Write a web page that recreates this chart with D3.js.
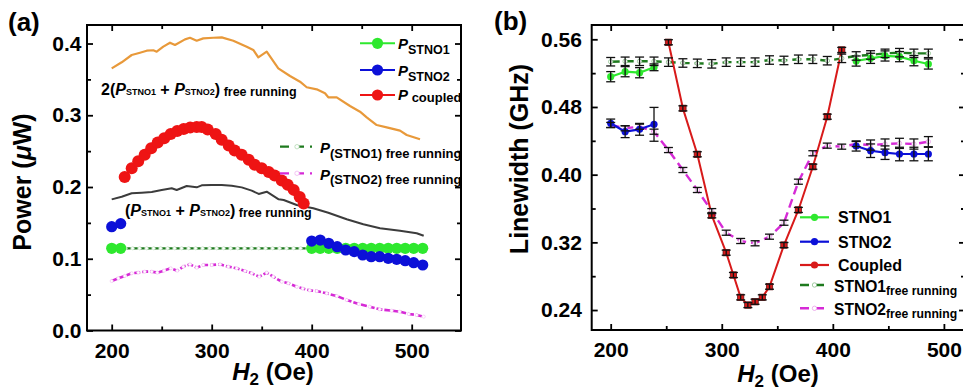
<!DOCTYPE html>
<html><head><meta charset="utf-8">
<script src="https://cdn.jsdelivr.net/npm/d3@7"></script>
<style>
body{margin:0;background:#fff}
svg{display:block;font-family:"Liberation Sans",Arial,sans-serif;font-weight:bold}
text{white-space:pre}
</style>
</head><body>
<svg id="c" width="963" height="391"></svg>
<script>
// ---------- Panel (a): output power vs H2 ----------
const hSum2 = [200,210,220,228.3,235,241.6,245,251.6,258.3,263.3,273.3,278.3,285,291.6,301.6,310,321.6,335,341.6,346.6,355,366.6,378.3,388.3,395,405,413.3,416.6,425,438.3,448.3,455,465,475,488.3,495,508.3];
const pSum2 = [0.3654,0.3738,0.384,0.3872,0.390,0.3906,0.3886,0.3956,0.4011,0.3979,0.4058,0.408,0.4039,0.4072,0.408,0.4086,0.4039,0.3956,0.391,0.3807,0.3886,0.3654,0.3547,0.3468,0.339,0.3361,0.3306,0.325,0.325,0.3129,0.305,0.2971,0.2864,0.2832,0.2785,0.2725,0.2665];

const hSum = [200,210,220,230,240,250,260,265,275,285,290,300,310,320,330,340,347,355,367,372,385,401.6,416.6,435,451.6,468.3,488.3,505,512];
const pSum = [0.1828,0.1865,0.1912,0.1921,0.193,0.1958,0.1982,0.1958,0.2014,0.1995,0.2023,0.2028,0.2028,0.2019,0.1995,0.1949,0.1903,0.1935,0.1828,0.1819,0.1749,0.1703,0.1642,0.155,0.148,0.1424,0.139,0.1355,0.132];

const hFree1 = [200,207,214,221,228,235,242,249,256,263,270,277,284,291,298,305,312,319,326,333,340,347,354,361,368,375,382,389,396,403,410,417,424,431,438,445,452,459,466,473,480,487,494,501,508];
const pFree1 = [0.1146,0.1146,0.1146,0.1146,0.1146,0.1146,0.1146,0.1146,0.1146,0.1146,0.1146,0.1146,0.1146,0.1146,0.1146,0.1146,0.1146,0.1146,0.1146,0.1146,0.1146,0.1146,0.1146,0.1146,0.1146,0.1146,0.1146,0.1146,0.1146,0.1146,0.1146,0.1146,0.1146,0.1146,0.1146,0.1146,0.1146,0.1146,0.1146,0.1146,0.1146,0.1146,0.1146,0.1146,0.1146];

const hFree2 = [200,206.6,213,220,226.6,233,240,245.6,252.3,259,265.6,271.6,278.3,285,291.6,300,308.3,316.6,325,333.3,340,347.6,355,361.6,370,376.6,385,391,398,405,415,425,435,447,458,468,480,488,497,505,512];
const pFree2 = [0.0690,0.0727,0.0760,0.0797,0.0807,0.0820,0.0820,0.0807,0.0834,0.0867,0.0834,0.0890,0.0922,0.0876,0.0913,0.0913,0.0922,0.0890,0.0867,0.0830,0.0797,0.0750,0.0807,0.0750,0.0680,0.0658,0.0610,0.0585,0.0560,0.0550,0.0518,0.0481,0.0425,0.0370,0.0332,0.0295,0.0276,0.0262,0.0230,0.0216,0.0193];

const hS1a = [[200,209],[400,408.5,417,425.5,434,442.5,451,459.5,468,476.5,485,493.5,502,511]];
const pS1a = [[0.1146,0.1146],[0.1146,0.1146,0.1146,0.1146,0.1146,0.1146,0.1146,0.1146,0.1146,0.1146,0.1146,0.1146,0.1146,0.1146]];
const hS2a = [[200,209],[400,408.5,417,425.5,434,442.5,451,459.5,468,476.5,485,493.5,502,511]];
const pS2a = [[0.1447,0.149],[0.1247,0.1261,0.1215,0.1168,0.1122,0.1099,0.1052,0.1029,0.1029,0.1006,0.0992,0.0973,0.0945,0.0913]];

const hCoup = [213,220,226.5,233,239.5,246,252.5,259,265.5,272,278.5,285,290,296,304,310,317,323,330,337,343,350,357,363,370,376,382,388,392];
const pCoup = [0.214,0.226,0.236,0.245,0.254,0.262,0.268,0.274,0.278,0.281,0.283,0.2835,0.2835,0.280,0.274,0.266,0.258,0.251,0.245,0.238,0.231,0.226,0.221,0.216,0.209,0.203,0.196,0.186,0.177];

const xTicksA = [200,300,400,500], xMinorA = [250,350,450];
const yTicksA = [0,0.1,0.2,0.3,0.4], yMinorA = [0.05,0.15,0.25,0.35];

// ---------- Panel (b): linewidth vs H2 ----------
const hB = [200,213,226,239,252,265,278,291,304,317,330,343,356,369,382,395,408,421,434,447,460,473,486];
const lwFree1 = [0.5335,0.534,0.534,0.534,0.533,0.532,0.5316,0.531,0.533,0.533,0.533,0.5355,0.535,0.5364,0.5364,0.5347,0.5375,0.5403,0.5415,0.5434,0.5442,0.5434,0.5434];
const errFree1 = [0.005,0.005,0.005,0.005,0.005,0.005,0.005,0.005,0.005,0.005,0.005,0.005,0.005,0.005,0.005,0.005,0.005,0.005,0.005,0.005,0.005,0.005,0.005];
const lwFree2 = [0.4587,0.4548,0.4567,0.4508,0.4291,0.4055,0.3819,0.3569,0.3314,0.3216,0.3189,0.3267,0.3432,0.3917,0.4253,0.4343,0.4331,0.4362,0.435,0.4362,0.437,0.4362,0.439];
const errFree2 = [0.003,0.003,0.003,0.003,0.003,0.003,0.003,0.003,0.003,0.003,0.003,0.003,0.003,0.003,0.003,0.003,0.003,0.003,0.006,0.006,0.006,0.006,0.006];

const hS1b = [[200,213,226,239],[421,434,447,460,473,486]];
const lwS1 = [[0.5158,0.5217,0.5205,0.5269],[0.5343,0.5375,0.5403,0.5395,0.5347,0.5308]];
const errS1 = [[0.006,0.006,0.006,0.004],[0.006,0.006,0.006,0.006,0.006,0.006]];
const hS2b = [[200,213,226,239],[421,434,447,460,473,486]];
const lwS2 = [[0.4607,0.4508,0.4536,0.4595],[0.4339,0.4283,0.426,0.4244,0.4244,0.4244]];
const errS2 = [[0.005,0.007,0.007,0.02],[0.006,0.008,0.008,0.008,0.008,0.008]];

const hCoupB = [252,265,278,291,304,310.5,317,323.5,330,336.5,343,356,369,382,395,408];
const lwCoup = [0.5565,0.4784,0.4241,0.352,0.3078,0.2814,0.255,0.2459,0.2498,0.255,0.2676,0.3168,0.3583,0.4094,0.4685,0.5474];
const errCoup = [0.003,0.003,0.003,0.003,0.003,0.003,0.003,0.003,0.003,0.003,0.003,0.003,0.003,0.003,0.003,0.003];

const xTicksB = [200,300,400,500], xMinorB = [250,350,450];
const yTicksB = [0.24,0.32,0.40,0.48,0.56], yMinorB = [0.28,0.36,0.44,0.52];

// colours
const C = {green:"#2ee82e", blue:"#0c10d8", red:"#ee1414", dkgreen:"#1e7a1e", magenta:"#d62ad6", orange:"#e8993a", gray:"#3c3c3c", redB:"#d81a1a"};

const svg = d3.select("#c");

// scales
const xA = d3.scaleLinear().domain([175.3, 549.3]).range([87, 461]);
const yA = d3.scaleLinear().domain([0, 0.4258]).range([330.5, 25]);
const xB = d3.scaleLinear().domain([182.9, 519]).range([591.7, 965]);
const yB = d3.scaleLinear().domain([0.2164, 0.5769]).range([330, 25]);

function rich(x, y, parts, anchor, transform) {
  const t = svg.append("text").attr("x", x).attr("y", y).attr("text-anchor", anchor || "start");
  if (transform) t.attr("transform", transform);
  let cur = 0;
  parts.forEach(p => {
    const sh = p.sh || 0;
    t.append("tspan").attr("font-size", p.s)
      .attr("font-style", p.i ? "italic" : "normal")
      .attr("dy", sh - cur).text(p.t);
    cur = sh;
  });
  return t;
}

function frame(x, y, xt, xm, yt, ym, yfmt, padY) {
  const [x0, x1] = x.range(), [y0, y1] = y.range();
  const style = g => {
    g.select(".domain").remove();
    g.attr("font-size", null).attr("font-family", null);
    g.selectAll("line").attr("stroke", "#000").attr("stroke-width", 1.8);
    g.selectAll("text").attr("font-size", 21).attr("fill", "#000");
  };
  const ax = (gen, tx, ty) => svg.append("g").attr("transform", `translate(${tx},${ty})`).call(gen).call(style);
  ax(d3.axisBottom(x).tickValues(xt).tickSize(-6).tickPadding(12.2).tickFormat(d3.format("d")), 0, y0);
  ax(d3.axisBottom(x).tickValues(xm).tickSize(-4).tickFormat(""), 0, y0);
  ax(d3.axisTop(x).tickValues(xt).tickSize(-6).tickFormat(""), 0, y1);
  ax(d3.axisTop(x).tickValues(xm).tickSize(-4).tickFormat(""), 0, y1);
  ax(d3.axisLeft(y).tickValues(yt).tickSize(-6).tickPadding(padY).tickFormat(d3.format(yfmt)), x0, 0);
  ax(d3.axisLeft(y).tickValues(ym).tickSize(-4).tickFormat(""), x0, 0);
  ax(d3.axisRight(y).tickValues(yt).tickSize(-6).tickFormat(""), x1, 0);
  ax(d3.axisRight(y).tickValues(ym).tickSize(-4).tickFormat(""), x1, 0);
  svg.append("rect").attr("x", x0).attr("y", y1).attr("width", x1 - x0).attr("height", y0 - y1)
    .attr("fill", "none").attr("stroke", "#000").attr("stroke-width", 2);
}

function path(hs, vs, x, y, color, width, dash) {
  const line = d3.line().x(d => x(d[0])).y(d => y(d[1]));
  const p = svg.append("path").datum(hs.map((h, i) => [h, vs[i]]))
    .attr("d", line).attr("fill", "none").attr("stroke", color).attr("stroke-width", width)
    .attr("stroke-linejoin", "round");
  if (dash) p.attr("stroke-dasharray", dash);
}

function dots(hs, vs, x, y, r, fill, stroke, sw) {
  svg.append("g").selectAll("circle").data(hs.map((h, i) => [h, vs[i]])).join("circle")
    .attr("cx", d => x(d[0])).attr("cy", d => y(d[1])).attr("r", r)
    .attr("fill", fill).attr("stroke", stroke || "none").attr("stroke-width", sw || 0);
}

function errbars(hs, vs, es, x, y) {
  const g = svg.append("g").attr("stroke", "#111").attr("stroke-width", 1.3);
  hs.forEach((h, i) => {
    const cx = x(h), top = y(vs[i] + es[i]), bot = y(vs[i] - es[i]);
    g.append("line").attr("x1", cx).attr("x2", cx).attr("y1", top).attr("y2", bot);
    g.append("line").attr("x1", cx - 4.5).attr("x2", cx + 4.5).attr("y1", top).attr("y2", top);
    g.append("line").attr("x1", cx - 4.5).attr("x2", cx + 4.5).attr("y1", bot).attr("y2", bot);
  });
}

// ===== Panel (a) =====
frame(xA, yA, xTicksA, xMinorA, yTicksA, yMinorA, ".1f", 5.6);

path(hSum2, pSum2, xA, yA, C.orange, 2.2);
path(hSum, pSum, xA, yA, C.gray, 2);
path(hFree1, pFree1, xA, yA, C.dkgreen, 2.2, "5,2");
dots(hFree1, pFree1, xA, yA, 1.6, "#fff", "#b5dab5", 0.6);
path(hFree2, pFree2, xA, yA, C.magenta, 2.6, "6,2");
dots(hFree2, pFree2, xA, yA, 1.6, "#fff", "#f0b8f0", 0.6);

hS1a.forEach((hs, k) => { path(hs, pS1a[k], xA, yA, C.green, 2); dots(hs, pS1a[k], xA, yA, 5.6, C.green); });
hS2a.forEach((hs, k) => { path(hs, pS2a[k], xA, yA, C.blue, 2); dots(hs, pS2a[k], xA, yA, 5.6, C.blue); });
path(hCoup, pCoup, xA, yA, C.red, 2);
dots(hCoup, pCoup, xA, yA, 6, C.red);

// annotations
rich(101, 95, [{t:"2(",s:16},{t:"P",s:16,i:true},{t:"STNO1",s:9},{t:" + ",s:16},{t:"P",s:16,i:true},{t:"STNO2",s:9},{t:")",s:16},{t:" free running",s:12.5,sh:1}]);
rich(125, 216, [{t:"(",s:16},{t:"P",s:16,i:true},{t:"STNO1",s:9},{t:" + ",s:16},{t:"P",s:16,i:true},{t:"STNO2",s:9},{t:")",s:16},{t:" free running",s:12.5,sh:1}]);

// legend (a)
[[43.3, C.green, "STNO1"], [70, C.blue, "STNO2"], [95, C.red, "coupled"]].forEach(([ly, col, lab]) => {
  svg.append("line").attr("x1", 360).attr("x2", 395).attr("y1", ly).attr("y2", ly).attr("stroke", col).attr("stroke-width", 2);
  svg.append("circle").attr("cx", 377.5).attr("cy", ly).attr("r", 5.6).attr("fill", col);
  if (lab === "coupled") rich(398, ly + 5, [{t:"P",s:15,i:true},{t:" coupled",s:13,sh:2}]);
  else rich(398, ly + 6, [{t:"P",s:15,i:true},{t:lab,s:12.5,sh:5}]);
});
[[146.7, C.dkgreen, "#b5dab5", "(STNO1) free running"], [173.3, C.magenta, "#f0b8f0", "(STNO2) free running"]].forEach(([ly, col, mk, lab]) => {
  svg.append("line").attr("x1", 280).attr("x2", 312).attr("y1", ly).attr("y2", ly).attr("stroke", col).attr("stroke-width", 2.2).attr("stroke-dasharray", "9,6");
  svg.append("circle").attr("cx", 297).attr("cy", ly).attr("r", 2.2).attr("fill", "#fff").attr("stroke", mk).attr("stroke-width", 0.8);
  rich(320, ly + 6.5, [{t:"P",s:15,i:true},{t:lab,s:13,sh:4.5}]);
});

// ===== Panel (b) =====
frame(xB, yB, xTicksB, xMinorB, yTicksB, yMinorB, ".2f", 9.8);

path(hB, lwFree1, xB, yB, C.dkgreen, 2.4, "9,5");
path(hB, lwFree2, xB, yB, C.magenta, 2.4, "9,5");
hS1b.forEach((hs, k) => path(hs, lwS1[k], xB, yB, C.green, 2.2));
hS2b.forEach((hs, k) => path(hs, lwS2[k], xB, yB, C.blue, 2.2));
path(hCoupB, lwCoup, xB, yB, C.redB, 2);

dots(hB, lwFree1, xB, yB, 2.2, "#fff", "#8cc08c", 0.8);
dots(hB, lwFree2, xB, yB, 2.2, "#fff", "#e8a0e8", 0.8);
hS1b.forEach((hs, k) => dots(hs, lwS1[k], xB, yB, 3.6, C.green));
hS2b.forEach((hs, k) => dots(hs, lwS2[k], xB, yB, 3.6, C.blue));
svg.append("g").selectAll("rect").data(hCoupB.map((h, i) => [h, lwCoup[i]])).join("rect")
  .attr("x", d => xB(d[0]) - 3.2).attr("y", d => yB(d[1]) - 3.2).attr("width", 6.4).attr("height", 6.4)
  .attr("fill", C.redB).attr("stroke", "#5a0a0a").attr("stroke-width", 0.7);

errbars(hB, lwFree1, errFree1, xB, yB);
errbars(hB, lwFree2, errFree2, xB, yB);
hS1b.forEach((hs, k) => errbars(hs, lwS1[k], errS1[k], xB, yB));
hS2b.forEach((hs, k) => errbars(hs, lwS2[k], errS2[k], xB, yB));
errbars(hCoupB, lwCoup, errCoup, xB, yB);

// legend (b)
[[217.3, C.green, "STNO1"], [241.7, C.blue, "STNO2"], [265, C.redB, "Coupled"]].forEach(([ly, col, lab]) => {
  svg.append("line").attr("x1", 800).attr("x2", 829).attr("y1", ly).attr("y2", ly).attr("stroke", col).attr("stroke-width", 2.2);
  svg.append("circle").attr("cx", 814.5).attr("cy", ly).attr("r", 3.6).attr("fill", col);
  rich(838, ly + 6, [{t:lab,s:16}]);
});
[[285, C.dkgreen, "#8cc08c", "STNO1"], [308.3, C.magenta, "#e8a0e8", "STNO2"]].forEach(([ly, col, mk, lab]) => {
  svg.append("line").attr("x1", 800).attr("x2", 829).attr("y1", ly).attr("y2", ly).attr("stroke", col).attr("stroke-width", 2.4).attr("stroke-dasharray", "9,6");
  svg.append("circle").attr("cx", 814.5).attr("cy", ly).attr("r", 2.2).attr("fill", "#fff").attr("stroke", mk).attr("stroke-width", 0.8);
  rich(834, ly + 6.5, [{t:lab,s:15.6},{t:"free running",s:12.2,sh:3.5}]);
});

// ===== titles =====
rich(0, 0, [{t:"Power (",s:25},{t:"\u03bc",s:25,i:true},{t:"W)",s:25}], "middle", "translate(31,182) rotate(-90)");
rich(0, 0, [{t:"Linewidth (GHz)",s:25}], "middle", "translate(528,159) rotate(-90)");
rich(273, 380, [{t:"H",s:24,i:true},{t:"2",s:17,sh:5},{t:" (Oe)",s:24}], "middle");
rich(778, 382, [{t:"H",s:24,i:true},{t:"2",s:17,sh:5},{t:" (Oe)",s:24}], "middle");
rich(8, 31, [{t:"(a)",s:26}]);
rich(494, 30, [{t:"(b)",s:26}]);
</script>
</body></html>
